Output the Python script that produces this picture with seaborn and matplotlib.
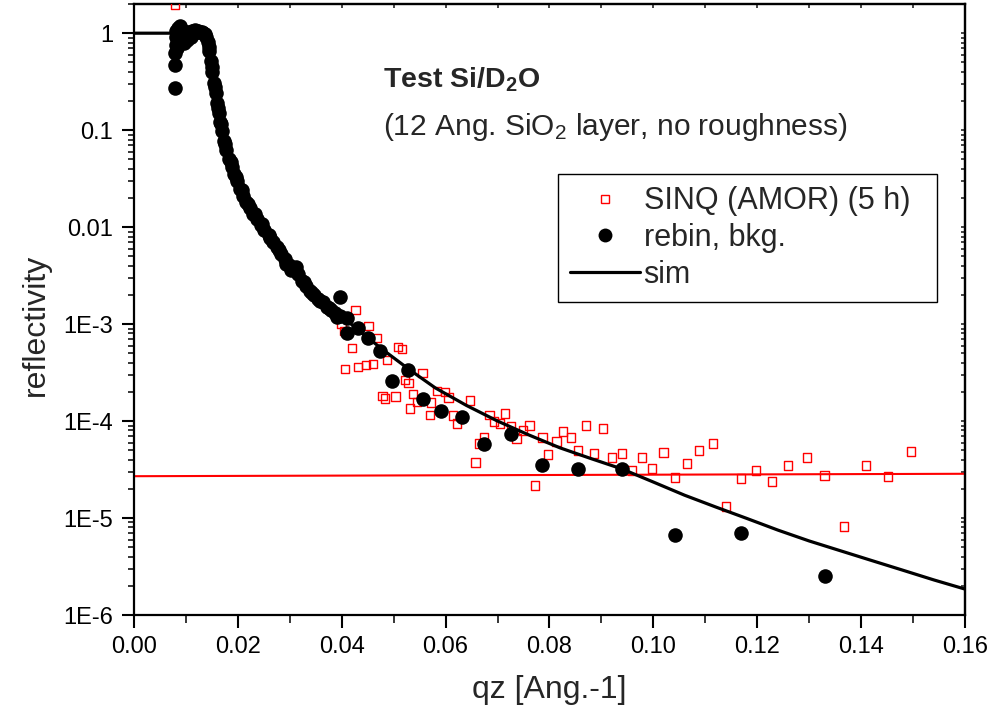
import numpy as np
import pandas as pd
import matplotlib
matplotlib.use("Agg")
import matplotlib.pyplot as plt
from matplotlib.lines import Line2D
from matplotlib.ticker import FixedLocator, FixedFormatter, NullFormatter
import seaborn as sns

# ---------------- data ----------------
q_rebin = [0.0079, 0.0079, 0.0079, 0.0080, 0.0080, 0.0081, 0.0083, 0.0085, 0.0087, 0.0089,
           0.0091, 0.0093, 0.0095, 0.0097, 0.0100, 0.0103, 0.0106, 0.0109, 0.0112, 0.0115,
           0.0118, 0.0121, 0.0124, 0.0127, 0.0130, 0.0133, 0.0136, 0.0139,
           0.0142, 0.0145, 0.0148, 0.0151, 0.0154, 0.0157, 0.0160, 0.0163, 0.0166, 0.0170,
           0.0174, 0.0178, 0.0183, 0.0188, 0.0193, 0.0198, 0.0204, 0.0210, 0.0216, 0.0223,
           0.0230, 0.0237, 0.0244, 0.0251, 0.0259, 0.0267, 0.0275, 0.0283, 0.0291, 0.0299,
           0.0307, 0.0315, 0.0323, 0.0331, 0.0339, 0.0347, 0.0355, 0.0363, 0.0371, 0.0379,
           0.0387, 0.0396,
           0.0144, 0.0150, 0.0156, 0.0162, 0.0168, 0.0176, 0.0186, 0.0196, 0.0207, 0.0219,
           0.0233, 0.0247, 0.0262, 0.0279, 0.0293, 0.0303, 0.0311, 0.0327, 0.0343, 0.0359,
           0.0375, 0.0391,
           0.0397, 0.0410, 0.0410, 0.0431, 0.0451, 0.0474, 0.0497, 0.0528, 0.0556, 0.0591,
           0.0632, 0.0674, 0.0726, 0.0786, 0.0855, 0.0940, 0.1042, 0.1169, 0.1330]
r_rebin = [0.27, 0.47, 0.62, 0.75, 0.92, 1.05, 0.70, 1.12, 0.85, 1.18,
           1.10, 0.88, 1.05, 0.80, 0.95, 0.85, 1.02, 0.92, 1.05, 1.00,
           1.08, 1.03, 1.06, 1.02, 1.04, 1.00, 0.97, 0.92,
           0.82, 0.66, 0.52, 0.40, 0.31, 0.24, 0.19, 0.15, 0.12, 0.097,
           0.078, 0.063, 0.051, 0.042, 0.035, 0.030, 0.025, 0.021, 0.018, 0.0158,
           0.0138, 0.0120, 0.0105, 0.0094, 0.0082, 0.0071, 0.0062, 0.0053, 0.0047, 0.0041,
           0.0037, 0.0033, 0.0028, 0.0025, 0.0022, 0.0020, 0.0018, 0.0017, 0.0015, 0.0014,
           0.0013, 0.00122,
           0.72, 0.45, 0.28, 0.17, 0.115, 0.072, 0.047, 0.033, 0.024, 0.0175,
           0.0135, 0.0108, 0.0078, 0.0058, 0.0042, 0.0036, 0.0039, 0.0027, 0.0021, 0.00175,
           0.00148, 0.00118,
           1.90e-3, 1.16e-3, 8.1e-4, 9.1e-4, 7.2e-4, 5.3e-4, 2.6e-4, 3.38e-4, 1.70e-4, 1.28e-4,
           1.11e-4, 5.86e-5, 7.43e-5, 3.56e-5, 3.17e-5, 3.24e-5, 6.64e-6, 6.96e-6, 2.52e-6]

q_sinq = [0.0079, 0.0400, 0.0405, 0.0427, 0.0452, 0.0420, 0.0406, 0.0431, 0.0447, 0.0460,
          0.0468, 0.0487, 0.0508, 0.0516, 0.0479, 0.0483, 0.0504, 0.0522, 0.0528, 0.0556,
          0.0537, 0.0545, 0.0531, 0.0570, 0.0572, 0.0583, 0.0599, 0.0605, 0.0614, 0.0622,
          0.0647, 0.0657, 0.0664, 0.0674, 0.0684, 0.0693, 0.0705, 0.0714, 0.0726, 0.0737,
          0.0749, 0.0761, 0.0772, 0.0786, 0.0797, 0.0813, 0.0826, 0.0841, 0.0855, 0.0870,
          0.0886, 0.0903, 0.0920, 0.0940, 0.0959, 0.0978, 0.0997, 0.1019, 0.1042, 0.1065,
          0.1088, 0.1115, 0.1140, 0.1169, 0.1198, 0.1228, 0.1259, 0.1296, 0.1330, 0.1367,
          0.1409, 0.1452, 0.1496]
r_sinq = [1.97, 1.0e-3, 8.5e-4, 1.40e-3, 9.55e-4, 5.68e-4, 3.46e-4, 3.62e-4, 3.80e-4, 3.89e-4,
          7.2e-4, 4.28e-4, 5.82e-4, 5.55e-4, 1.82e-4, 1.70e-4, 1.78e-4, 2.66e-4, 2.48e-4, 3.14e-4,
          1.91e-4, 1.58e-4, 1.34e-4, 1.16e-4, 1.55e-4, 2.05e-4, 2.0e-4, 1.74e-4, 1.14e-4, 9.4e-5,
          1.62e-4, 3.73e-5, 5.86e-5, 6.75e-5, 1.16e-4, 9.86e-5, 9.4e-5, 1.19e-4, 8.76e-5, 6.59e-5,
          7.96e-5, 8.97e-5, 2.17e-5, 6.75e-5, 4.52e-5, 6.14e-5, 7.78e-5, 6.75e-5, 4.96e-5, 8.97e-5,
          4.62e-5, 8.36e-5, 4.21e-5, 4.62e-5, 3.09e-5, 4.21e-5, 3.24e-5, 4.73e-5, 2.62e-5, 3.65e-5,
          4.96e-5, 5.86e-5, 1.32e-5, 2.56e-5, 3.09e-5, 2.38e-5, 3.48e-5, 4.21e-5, 2.75e-5, 8.22e-6,
          3.48e-5, 2.68e-5, 4.85e-5]

q_sim = [0.0, 0.004, 0.008, 0.011, 0.0130, 0.0138, 0.0144, 0.0150, 0.0156, 0.0162,
         0.0170, 0.0180, 0.0192, 0.0205, 0.0220, 0.0240, 0.0260, 0.0285, 0.0310, 0.0340,
         0.0370, 0.0400, 0.0440, 0.0480, 0.0530, 0.0580, 0.0640, 0.0700, 0.0760, 0.0820,
         0.0880, 0.0940, 0.1000, 0.1060, 0.1120, 0.1180, 0.1240, 0.1300, 0.1360, 0.1420,
         0.1480, 0.1540, 0.1600]
r_sim = [1.0, 1.0, 1.0, 1.0, 0.99, 0.95, 0.75, 0.50, 0.32, 0.21,
         0.13, 0.075, 0.045, 0.028, 0.018, 0.0115, 0.0078, 0.0052, 0.0037, 0.0025,
         0.0017, 0.0012, 8.0e-4, 5.4e-4, 3.4e-4, 2.2e-4, 1.45e-4, 1.0e-4, 7.2e-5, 5.3e-5,
         4.1e-5, 3.2e-5, 2.35e-5, 1.72e-5, 1.30e-5, 9.9e-6, 7.5e-6, 5.8e-6, 4.6e-6, 3.65e-6,
         2.9e-6, 2.3e-6, 1.85e-6]

q_bkg = [0.0, 0.16]
r_bkg = [2.70e-5, 2.86e-5]

x_ticks = [0.00, 0.02, 0.04, 0.06, 0.08, 0.10, 0.12, 0.14, 0.16]
x_ticklabels = ["0.00", "0.02", "0.04", "0.06", "0.08", "0.10", "0.12", "0.14", "0.16"]
y_ticks = [1, 0.1, 0.01, 1e-3, 1e-4, 1e-5, 1e-6]
y_ticklabels = ["1", "0.1", "0.01", "1E-3", "1E-4", "1E-5", "1E-6"]

legend_labels = ["SINQ (AMOR) (5 h)", "rebin, bkg.", "sim"]
title_text = r"Test Si/D$_\mathbf{2}$O"
sub_text = r"(12 Ang. SiO$_2$ layer, no roughness)"
xlabel = "qz [Ang.-1]"
ylabel = "reflectivity"

# ---------------- style ----------------
sns.set_style("ticks")
plt.rcParams["font.family"] = ["Liberation Sans", "DejaVu Sans"]
plt.rcParams["mathtext.fontset"] = "custom"
plt.rcParams["mathtext.rm"] = "Liberation Sans"
plt.rcParams["mathtext.it"] = "Liberation Sans:italic"
plt.rcParams["mathtext.bf"] = "Liberation Sans:bold"

fig = plt.figure(figsize=(10.03, 7.10), dpi=100, facecolor="white")
W, H = 1003, 710
ax = fig.add_axes([134 / W, 1 - 615 / H, 831 / W, 611 / H])
ax.set_facecolor("white")

df_bkg = pd.DataFrame({"q": q_bkg, "R": r_bkg})
df_sinq = pd.DataFrame({"q": q_sinq, "R": r_sinq})
df_sim = pd.DataFrame({"q": q_sim, "R": r_sim})
df_rebin = pd.DataFrame({"q": q_rebin, "R": r_rebin})

sns.lineplot(data=df_bkg, x="q", y="R", color="#ff0000", linewidth=1.5, ax=ax,
             estimator=None, sort=False, zorder=2)
sns.scatterplot(data=df_sinq, x="q", y="R", marker="s", s=38, facecolors="none",
                edgecolor="#ff0000", linewidth=1.0, ax=ax, zorder=3)
sns.lineplot(data=df_sim, x="q", y="R", color="black", linewidth=2.3, ax=ax,
             estimator=None, sort=False, zorder=4)
sns.scatterplot(data=df_rebin, x="q", y="R", marker="o", s=110, color="black",
                edgecolor="black", linewidth=0, ax=ax, zorder=5)

ax.set_yscale("log")
ax.set_xlim(0.0, 0.16)
ax.set_ylim(1e-6, 2.0)

for sp in ax.spines.values():
    sp.set_visible(True)
    sp.set_linewidth(1.6)
    sp.set_color("black")

ax.xaxis.set_major_locator(FixedLocator(x_ticks))
ax.xaxis.set_major_formatter(FixedFormatter(x_ticklabels))
ax.xaxis.set_minor_locator(FixedLocator([0.01, 0.03, 0.05, 0.07, 0.09, 0.11, 0.13, 0.15]))
ax.yaxis.set_major_locator(FixedLocator(y_ticks))
ax.yaxis.set_major_formatter(FixedFormatter(y_ticklabels))
ax.yaxis.set_minor_locator(matplotlib.ticker.LogLocator(base=10, subs=np.arange(2, 10)))
ax.yaxis.set_minor_formatter(NullFormatter())

ax.tick_params(axis="both", which="major", direction="out", length=9, width=1.5,
               labelsize=17, pad=6, colors="black")
ax.tick_params(axis="both", which="minor", direction="out", length=4.5, width=1.3)
ax.tick_params(axis="x", which="minor", length=6)

# mirrored small inward ticks on top/right
secx = ax.secondary_xaxis("top")
secx.xaxis.set_major_locator(FixedLocator(x_ticks))
secx.xaxis.set_minor_locator(FixedLocator([0.01, 0.03, 0.05, 0.07, 0.09, 0.11, 0.13, 0.15]))
secx.tick_params(which="both", direction="in", length=3, width=1.2, labeltop=False)
secx.spines["top"].set_linewidth(1.6)
secy = ax.secondary_yaxis("right")
secy.yaxis.set_major_locator(FixedLocator(y_ticks))
secy.yaxis.set_minor_locator(matplotlib.ticker.LogLocator(base=10, subs=np.arange(2, 10)))
secy.yaxis.set_minor_formatter(NullFormatter())
secy.tick_params(which="both", direction="in", length=3, width=1.2, labelright=False)
secy.spines["right"].set_linewidth(1.6)

ax.set_xlabel(xlabel, fontsize=23)
ax.set_ylabel(ylabel, fontsize=23)
ax.xaxis.set_label_coords(0.5, (615 - 690) / 611)
ax.xaxis.label.set_va("center")
ax.yaxis.set_label_coords((36 - 134) / 831, (615 - 325) / 611)
ax.yaxis.label.set_va("center")

ax.text((383 - 134) / 831, (615 - 88) / 611, title_text, transform=ax.transAxes,
        fontsize=20.5, fontweight="bold", ha="left", va="baseline")
ax.text((383 - 134) / 831, (615 - 135) / 611, sub_text, transform=ax.transAxes,
        fontsize=21.5, ha="left", va="baseline")

handles = [
    Line2D([], [], marker="s", ls="none", mfc="none", mec="#ff0000", ms=6, mew=1.0),
    Line2D([], [], marker="o", ls="none", color="black", ms=10, mew=0),
    Line2D([], [], color="black", lw=2.3),
]
leg = ax.legend(handles, legend_labels, loc="upper left",
                bbox_to_anchor=((558 - 134) / 831, (615 - 298) / 611, (937 - 558) / 831, (298 - 174) / 611),
                mode="expand", borderaxespad=0, fontsize=22, frameon=True, fancybox=False,
                framealpha=1, edgecolor="black", handlelength=2.3, handletextpad=0.1,
                borderpad=0.4, labelspacing=0.22)
leg.get_frame().set_linewidth(1.0)

fig.savefig("out.png", dpi=100, facecolor="white")
